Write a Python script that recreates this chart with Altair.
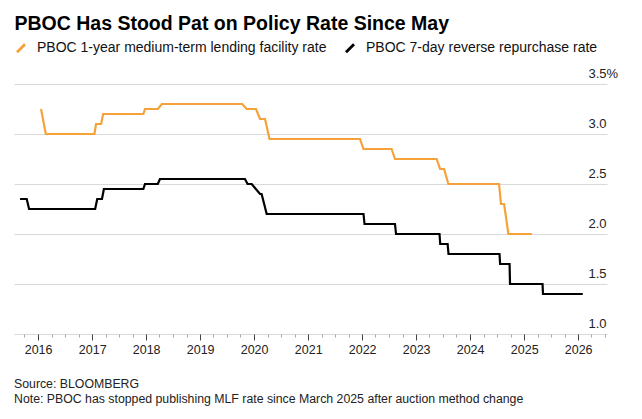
import altair as alt
import pandas as pd

FONT = "Liberation Sans"
TITLE = "PBOC Has Stood Pat on Policy Rate Since May"
SERIES = ["PBOC 1-year medium-term lending facility rate", "PBOC 7-day reverse repurchase rate"]
COLORS = ["#F6A23A", "#000000"]
FOOTER = ["Source: BLOOMBERG",
          "Note: PBOC has stopped publishing MLF rate since March 2025 after auction method change"]

# PBOC 1-year MLF rate (%) at change points
mlf_dates = ["2016-01-21", "2016-02-22", "2017-01-16", "2017-01-27", "2017-03-02", "2017-03-16",
             "2017-12-13", "2017-12-24", "2018-03-21", "2018-04-17", "2019-10-12", "2019-11-12",
             "2020-01-14", "2020-02-10", "2020-03-15", "2020-04-14", "2021-12-17", "2022-01-10",
             "2022-07-19", "2022-08-11", "2023-05-20", "2023-06-12", "2023-07-09", "2023-08-07",
             "2024-07-15", "2024-07-28", "2024-08-18", "2024-09-16", "2025-02-22"]
mlf_values = [3.25, 3.00, 3.00, 3.10, 3.10, 3.20,
              3.20, 3.25, 3.25, 3.30, 3.30, 3.25,
              3.25, 3.15, 3.15, 2.95, 2.95, 2.85,
              2.85, 2.75, 2.75, 2.65, 2.65, 2.50,
              2.50, 2.30, 2.30, 2.00, 2.00]

# PBOC 7-day reverse repo rate (%)
rr_dates = ["2015-09-01", "2015-10-16", "2015-11-01", "2017-01-21", "2017-02-04", "2017-03-08",
            "2017-03-21", "2017-12-13", "2017-12-24", "2018-03-21", "2018-04-04", "2019-10-31",
            "2019-11-18", "2019-12-16", "2020-02-10", "2020-02-21", "2020-03-26", "2022-01-10",
            "2022-01-17", "2022-08-11", "2022-08-18", "2023-06-08", "2023-06-13", "2023-08-02",
            "2023-08-08", "2024-07-18", "2024-07-22", "2024-09-24", "2024-09-27", "2025-05-05",
            "2025-05-08", "2026-02-01"]
rr_values = [2.35, 2.35, 2.25, 2.25, 2.35, 2.35,
             2.45, 2.45, 2.50, 2.50, 2.55, 2.55,
             2.50, 2.50, 2.40, 2.40, 2.20, 2.20,
             2.10, 2.10, 2.00, 2.00, 1.90, 1.90,
             1.80, 1.80, 1.70, 1.70, 1.50, 1.50,
             1.40, 1.40]

tick_years = list(range(2015, 2027))
tick_months = [1, 4, 7, 10]
y_ticks = [1.0, 1.5, 2.0, 2.5, 3.0, 3.5]

df = pd.DataFrame({
    "date": mlf_dates + rr_dates,
    "rate": mlf_values + rr_values,
    "series": [SERIES[0]] * len(mlf_dates) + [SERIES[1]] * len(rr_dates),
})

x_scale = alt.Scale(domain=[alt.DateTime(year=2015, month=7, date=22),
                            alt.DateTime(year=2026, month=7, date=15)])
y_scale = alt.Scale(domain=[1.0, 3.5], nice=False, zero=False)

x_values = [alt.DateTime(year=y, month=m, date=1) for y in tick_years for m in tick_months]

is_year = "month(datum.value) == 0"
x_axis = alt.Axis(values=x_values, orient="bottom", title=None, domain=False, grid=False,
                  labelExpr=f"{is_year} ? timeFormat(datum.value, '%Y') : ''",
                  tickSize={"condition": {"test": is_year, "value": 6}, "value": 3},
                  tickColor={"condition": {"test": is_year, "value": "#444444"}, "value": "#a8a8a8"},
                  tickWidth=1, labelFont=FONT, labelFontSize=12.5, labelColor="#222",
                  labelPadding=3, labelFlush=False, labelOverlap=False)
y_axis = alt.Axis(values=y_ticks, orient="right", title=None, domain=False, ticks=False,
                  tickSize=0, grid=True, gridColor="#d9d9d9", gridWidth=1.2,
                  labelAlign="left", labelBaseline="alphabetic", labelOffset=-7,
                  labelPadding=-19, labelFont=FONT, labelFontSize=13, labelColor="#222",
                  labelExpr="datum.value == 3.5 ? '3.5%' : format(datum.value, '.1f')")

legend = alt.Legend(title=None, orient="none", legendX=0, legendY=-43, direction="horizontal",
                    symbolType="M-1,1L1,-1", symbolSize=64, symbolStrokeWidth=2.8,
                    labelFont=FONT, labelFontSize=14, labelColor="#111", labelLimit=500,
                    labelOffset=9, columnPadding=13)

lines = alt.Chart(df).mark_line(strokeWidth=2.2).encode(
    x=alt.X("date:T", scale=x_scale, axis=x_axis),
    y=alt.Y("rate:Q", scale=y_scale, axis=y_axis),
    color=alt.Color("series:N", scale=alt.Scale(domain=SERIES, range=COLORS), legend=legend),
)

anno = pd.DataFrame({"k": [0]})
title = alt.Chart(anno).mark_text(text=TITLE, align="left", baseline="alphabetic",
                                  font=FONT, fontSize=19.5, fontWeight="bold",
                                  color="#000").encode(x=alt.value(0.5), y=alt.value(-54))
footer = alt.Chart(anno).mark_text(text=FOOTER, align="left", baseline="top",
                                   font=FONT, fontSize=12.3, lineHeight=15,
                                   color="#222").encode(x=alt.value(0), y=alt.value(294))

chart = alt.layer(lines, title, footer).properties(
    width=593, height=250,
    padding={"left": 6, "top": 76, "right": 27, "bottom": 77},
    autosize=alt.AutoSizeParams(type="none"),
).configure_view(stroke=None)

chart.save("out.html", embed_options={"renderer": "svg", "actions": False})
